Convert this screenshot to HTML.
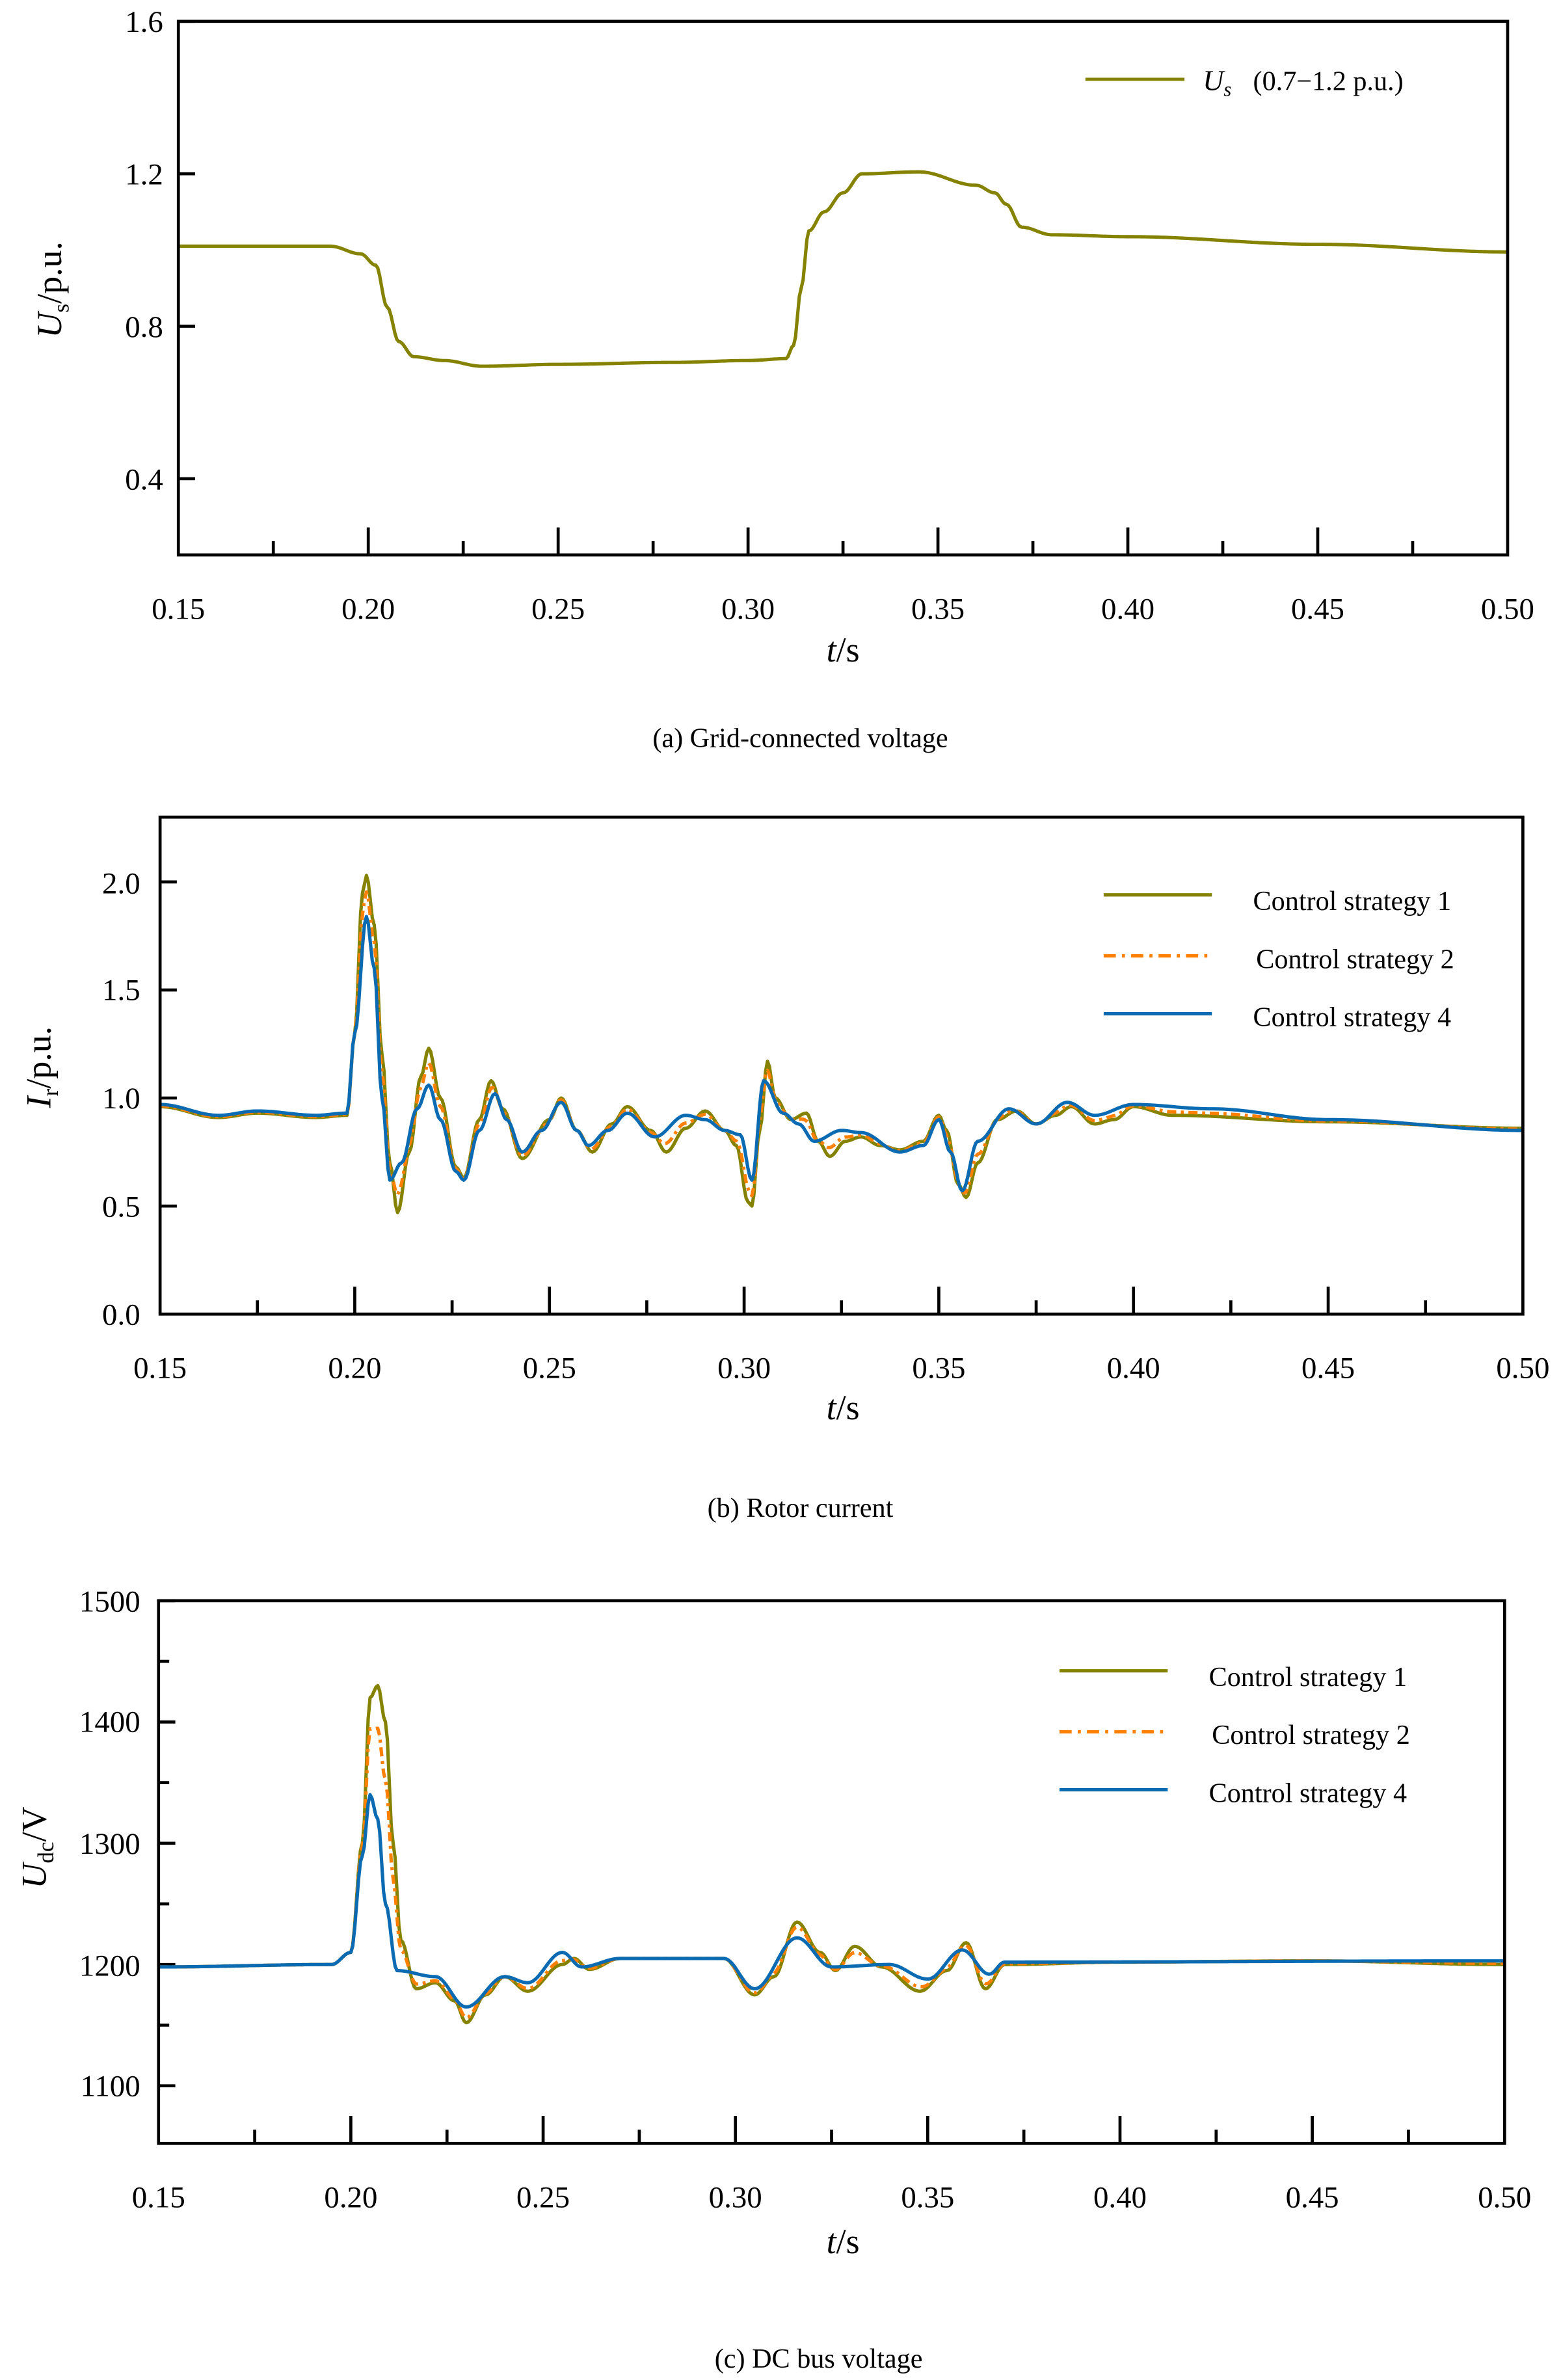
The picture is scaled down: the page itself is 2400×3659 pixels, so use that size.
<!DOCTYPE html>
<html><head><meta charset="utf-8"><style>
html,body{margin:0;padding:0;background:#fff}
svg{display:block}
text{font-family:"Liberation Serif",serif;fill:#000}
</style></head><body>
<svg id="s" width="2400" height="3659" viewBox="0 0 1024 1561.2" xmlns="http://www.w3.org/2000/svg">
<rect width="1024" height="1562" fill="#fff"/>
<g id="g"></g>
<g font-size="20">
<text x="107" y="21" text-anchor="end">1.6</text>
<text x="107" y="121" text-anchor="end">1.2</text>
<text x="107" y="221" text-anchor="end">0.8</text>
<text x="107" y="321" text-anchor="end">0.4</text>
</g>
<text transform="translate(40,190) rotate(-90)" font-size="23" text-anchor="middle"><tspan font-style="italic">U</tspan><tspan font-size="15" dy="5">s</tspan><tspan dy="-5">/p.u.</tspan></text>
<text x="553" y="434" font-size="23" text-anchor="middle"><tspan font-style="italic">t</tspan>/s</text>
<text x="525" y="490" font-size="18" text-anchor="middle">(a) Grid-connected voltage</text>
<line x1="712" y1="52" x2="777" y2="52" stroke="#858200" stroke-width="2"/>
<text x="789" y="59" font-size="19"><tspan font-style="italic">U</tspan><tspan font-size="13" font-style="italic" dy="4">s</tspan></text>
<text x="822" y="59" font-size="18">(0.7−1.2 p.u.)</text>
<g font-size="20">
<text x="92" y="586" text-anchor="end">2.0</text>
<text x="92" y="656" text-anchor="end">1.5</text>
<text x="92" y="727" text-anchor="end">1.0</text>
<text x="92" y="798" text-anchor="end">0.5</text>
<text x="92" y="869" text-anchor="end">0.0</text>
</g>
<text transform="translate(33,700) rotate(-90)" font-size="23" text-anchor="middle"><tspan font-style="italic">I</tspan><tspan font-size="15" dy="5">r</tspan><tspan dy="-5">/p.u.</tspan></text>
<text x="553" y="931" font-size="23" text-anchor="middle"><tspan font-style="italic">t</tspan>/s</text>
<text x="525" y="995" font-size="18" text-anchor="middle">(b) Rotor current</text>
<g font-size="18">
<line x1="724" y1="587" x2="795" y2="587" stroke="#858200" stroke-width="2.2"/>
<text x="822" y="597">Control strategy 1</text>
<line x1="724" y1="627" x2="795" y2="627" stroke="#ff8000" stroke-width="2.2" stroke-dasharray="8,4,2,4"/>
<text x="824" y="635">Control strategy 2</text>
<line x1="724" y1="665" x2="795" y2="665" stroke="#0a6ab2" stroke-width="2.2"/>
<text x="822" y="673">Control strategy 4</text>
</g>
<g font-size="20">
<text x="92" y="1057" text-anchor="end">1500</text>
<text x="92" y="1136" text-anchor="end">1400</text>
<text x="92" y="1216" text-anchor="end">1300</text>
<text x="92" y="1296" text-anchor="end">1200</text>
<text x="92" y="1375" text-anchor="end">1100</text>
</g>
<text transform="translate(30,1212) rotate(-90)" font-size="23" text-anchor="middle"><tspan font-style="italic">U</tspan><tspan font-size="15" dy="5">dc</tspan><tspan dy="-5">/V</tspan></text>
<text x="553" y="1478" font-size="23" text-anchor="middle"><tspan font-style="italic">t</tspan>/s</text>
<text x="537" y="1553" font-size="18" text-anchor="middle">(c) DC bus voltage</text>
<g font-size="18">
<line x1="695" y1="1096" x2="766" y2="1096" stroke="#858200" stroke-width="2.2"/>
<text x="793" y="1106">Control strategy 1</text>
<line x1="695" y1="1136" x2="766" y2="1136" stroke="#ff8000" stroke-width="2.2" stroke-dasharray="8,4,2,4"/>
<text x="795" y="1144">Control strategy 2</text>
<line x1="695" y1="1174" x2="766" y2="1174" stroke="#0a6ab2" stroke-width="2.2"/>
<text x="793" y="1182">Control strategy 4</text>
</g>
</svg>
<script>
const NS="http://www.w3.org/2000/svg",G=document.getElementById('g');
function el(t,a){const e=document.createElementNS(NS,t);for(const k in a)e.setAttribute(k,a[k]);G.appendChild(e);return e;}
function interp(d,t){for(let i=1;i<d.length;i++){if(t<=d[i][0]){const a=d[i-1],b=d[i];const f=(t-a[0])/(b[0]-a[0]);const s=(1-Math.cos(Math.PI*f))/2;return a[1]+(b[1]-a[1])*s;}}return d[d.length-1][1];}
function panel(P){
 const X=t=>P.x0+(t-0.15)/0.35*(P.x1-P.x0),Y=v=>P.y1-(v-P.vmin)/(P.vmax-P.vmin)*(P.y1-P.y0);
 for(let k=0;k<=14;k++){const t=0.15+k*0.025,x=X(t);const maj=k%2==0;if(k==0||k==14)continue;
  el('line',{x1:x,x2:x,y1:P.y1,y2:P.y1-(maj?18:9),stroke:'#000','stroke-width':2});}
 for(let k=0;k<=14;k+=2){const t=0.15+k*0.025;const tx=el('text',{x:X(t),y:P.y1+42,'font-size':20,'text-anchor':'middle'});tx.textContent=t.toFixed(2);}
 P.yt.forEach(v=>{const y=Y(v);el('line',{x1:P.x0,x2:P.x0+(P.ymin&&P.ymin.includes(v)?7:11),y1:y,y2:y,stroke:'#000','stroke-width':2});});
 P.series.forEach(s=>{let d='';for(let t=0.15;t<=0.5001;t+=0.0005){let v=s.f?s.f(t):interp(s.d,t);d+=(d?'L':'M')+X(t).toFixed(2)+','+Y(v).toFixed(2);}
  const a={d:d,fill:'none',stroke:s.c,'stroke-width':2.2,'stroke-linejoin':'round'};if(s.dash)a['stroke-dasharray']=s.dash;el('path',a);});
 el('rect',{x:P.x0,y:P.y0,width:P.x1-P.x0,height:P.y1-P.y0,fill:'none',stroke:'#000','stroke-width':2});
}
const OL='#858200',OR='#ff8000',BL='#0a6ab2';
const A=[[0.15,1.01],[0.19,1.01],[0.198,0.99],[0.202,0.96],[0.205,0.85],[0.208,0.76],[0.212,0.72],[0.22,0.71],[0.23,0.695],[0.25,0.70],[0.28,0.705],[0.30,0.71],[0.31,0.715],[0.312,0.75],[0.314,0.9],[0.316,1.05],[0.32,1.1],[0.325,1.15],[0.33,1.2],[0.345,1.205],[0.36,1.17],[0.365,1.15],[0.368,1.12],[0.372,1.06],[0.38,1.04],[0.40,1.035],[0.45,1.015],[0.50,0.995]];
panel({x0:117,x1:989,y0:14,y1:364,vmin:0.2,vmax:1.6,yt:[0.4,0.8,1.2,1.6],series:[{d:A,c:OL}]});
const B1=[[0.15,0.96],[0.165,0.91],[0.175,0.93],[0.19,0.91],[0.198,0.92],[0.200,1.3],[0.202,1.95],[0.203,2.03],[0.205,1.8],[0.207,1.2],[0.209,0.7],[0.211,0.47],[0.214,0.75],[0.217,1.1],[0.219,1.23],[0.222,1.0],[0.226,0.68],[0.228,0.63],[0.232,0.9],[0.235,1.08],[0.238,0.95],[0.243,0.72],[0.25,0.9],[0.253,1.0],[0.257,0.85],[0.261,0.75],[0.266,0.88],[0.27,0.96],[0.276,0.85],[0.28,0.75],[0.285,0.86],[0.29,0.94],[0.295,0.85],[0.298,0.78],[0.301,0.52],[0.302,0.5],[0.304,0.85],[0.306,1.17],[0.308,1.0],[0.312,0.9],[0.316,0.93],[0.319,0.8],[0.322,0.73],[0.326,0.8],[0.33,0.82],[0.335,0.78],[0.34,0.76],[0.346,0.8],[0.35,0.92],[0.352,0.85],[0.355,0.6],[0.357,0.54],[0.36,0.7],[0.365,0.9],[0.37,0.94],[0.375,0.88],[0.38,0.92],[0.384,0.96],[0.39,0.88],[0.395,0.9],[0.40,0.96],[0.41,0.92],[0.45,0.89],[0.5,0.86]];
const B4=[[0.15,0.97],[0.165,0.92],[0.175,0.94],[0.19,0.92],[0.198,0.93],[0.200,1.3],[0.203,1.84],[0.205,1.6],[0.207,1.0],[0.209,0.62],[0.212,0.7],[0.216,0.95],[0.219,1.06],[0.222,0.9],[0.226,0.66],[0.228,0.62],[0.232,0.85],[0.236,1.02],[0.239,0.9],[0.243,0.75],[0.248,0.85],[0.253,0.98],[0.257,0.85],[0.26,0.78],[0.265,0.85],[0.27,0.93],[0.277,0.82],[0.285,0.92],[0.29,0.9],[0.295,0.85],[0.299,0.83],[0.302,0.62],[0.305,1.08],[0.31,0.93],[0.314,0.88],[0.318,0.8],[0.325,0.85],[0.33,0.84],[0.34,0.75],[0.346,0.78],[0.35,0.9],[0.353,0.75],[0.356,0.57],[0.36,0.8],[0.368,0.95],[0.375,0.88],[0.383,0.98],[0.39,0.92],[0.40,0.97],[0.42,0.95],[0.45,0.9],[0.5,0.85]];
const f2=(a,b,w)=>t=>w*interp(a,t)+(1-w)*interp(b,t);
panel({x0:105,x1:999,y0:536,y1:862,vmin:0,vmax:2.3,yt:[0.5,1.0,1.5,2.0],series:[{d:B1,c:OL},{f:f2(B1,B4,0.6),c:OR,dash:'6,3,2,3'},{d:B4,c:BL}]});
const C1=[[0.15,1198],[0.195,1200],[0.2,1210],[0.203,1300],[0.205,1420],[0.207,1430],[0.209,1400],[0.211,1300],[0.213,1220],[0.217,1180],[0.222,1185],[0.227,1170],[0.23,1152],[0.235,1175],[0.24,1190],[0.246,1178],[0.255,1200],[0.258,1205],[0.262,1196],[0.27,1205],[0.297,1205],[0.305,1175],[0.31,1190],[0.316,1235],[0.322,1210],[0.326,1195],[0.331,1215],[0.338,1198],[0.348,1178],[0.355,1195],[0.36,1218],[0.365,1180],[0.37,1200],[0.4,1202],[0.45,1203],[0.5,1200]];
const C4=[[0.15,1198],[0.195,1200],[0.2,1210],[0.203,1290],[0.205,1340],[0.207,1320],[0.209,1250],[0.212,1195],[0.222,1190],[0.23,1165],[0.24,1190],[0.246,1185],[0.255,1210],[0.26,1198],[0.27,1205],[0.297,1205],[0.305,1180],[0.316,1222],[0.325,1198],[0.34,1200],[0.35,1188],[0.359,1212],[0.366,1192],[0.37,1202],[0.5,1203]];
panel({x0:104,x1:987,y0:1050,y1:1406,vmin:1052.5,vmax:1500,yt:[1100,1150,1200,1250,1300,1350,1400,1450,1500],ymin:[1150,1250,1350,1450],series:[{d:C1,c:OL},{f:f2(C1,C4,0.68),c:OR,dash:'6,3,2,3'},{d:C4,c:BL}]});
</script>
</body></html>
